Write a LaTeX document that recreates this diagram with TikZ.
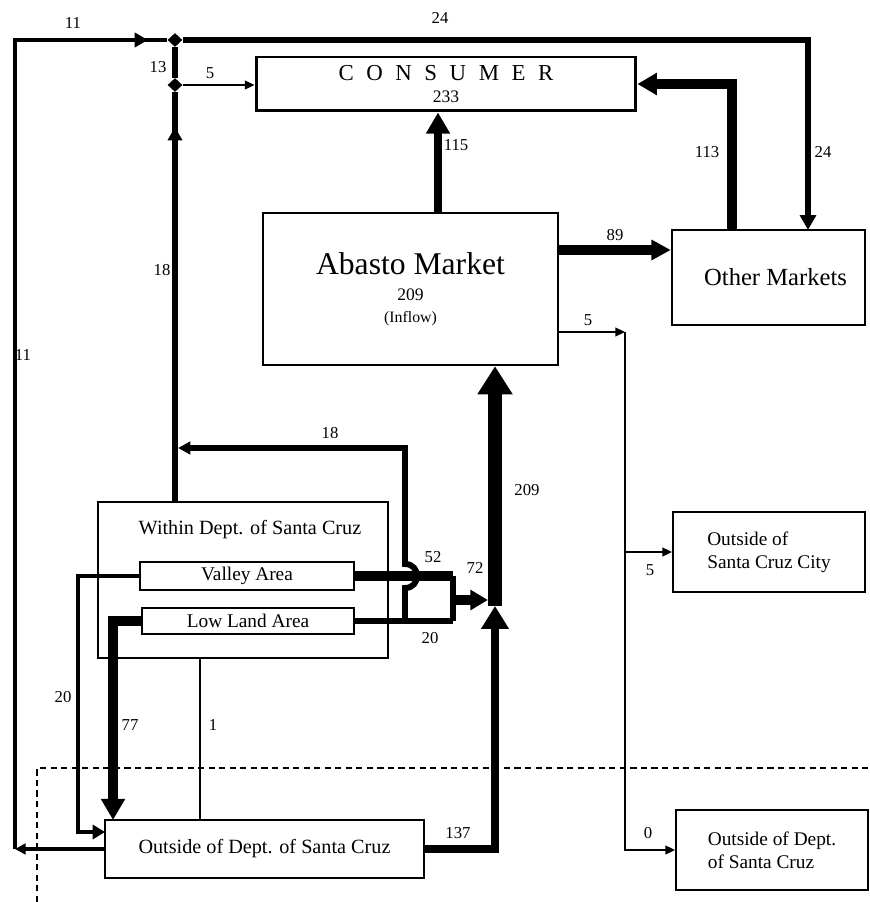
\documentclass[tikz,border=0pt]{standalone}
\usepackage{fontspec}
\setmainfont{Liberation Serif}
\usetikzlibrary{arrows.meta, shapes.geometric, decorations.markings}
\newcommand{\fsz}[2]{\fontsize{#1}{#2}\selectfont}
\tikzset{
  box/.style={draw, line width=1.4pt, inner sep=0pt, align=center},
  smallbox/.style={box, line width=1.1pt, font=\fsz{11}{13}},
  flowlab/.style={font=\fsz{9.5}{10}, inner sep=0pt},
  joint/.style={diamond, fill, inner sep=0pt, minimum width=0.3cm, minimum height=0.28cm},
  thinflow/.style={line width=0.9pt, -{Triangle[length=5.5pt, width=5pt]}},
  midtip/.style={postaction={decorate},
                 decoration={markings, mark=at position #1 with {\arrow{Triangle[length=7.5pt, width=8pt]}}}},
}

\begin{document}
\begin{tikzpicture}[x=0.02cm, y=-0.02cm]
  \useasboundingbox (0,0) rectangle (869,902);

  % boxes
  \node[box, line width=1.7pt, minimum width=7.6cm, minimum height=1.08cm] (consumer) at (446,84)
    {{\fsz{13}{15}\spaceskip=0.55em C O N S U M E R}\\[1pt]{\fsz{10}{12}233}};
  \node[box, minimum width=5.9cm, minimum height=3.04cm] (abasto) at (410.5,289)
    {{\fsz{18}{20}Abasto Market}\\[3pt]{\fsz{10}{12}209}\\[0pt]{\fsz{9}{11}(Inflow)}};
  \node[box, minimum width=3.86cm, minimum height=1.9cm, font=\fsz{14}{16}] (other) at (768.5,277.5) {\hspace*{8pt}Other Markets};
  \node[box, line width=0.8pt, minimum width=5.8cm, minimum height=3.12cm] (within) at (243,580) {};
  \node[font=\fsz{11.5}{13}] (withintxt) at (250,530) {Within Dept. of Santa Cruz};
  \node[smallbox, minimum width=4.28cm, minimum height=0.56cm] (valley) at (247,576) {Valley Area};
  \node[smallbox, minimum width=4.24cm, minimum height=0.52cm] (lowland) at (248,621) {Low Land Area};
  \node[box, minimum width=6.38cm, minimum height=1.16cm, font=\fsz{11.5}{13}] (outdept) at (264.5,849) {Outside of Dept. of Santa Cruz};
  \node[smallbox, align=left, minimum width=3.84cm, minimum height=1.6cm] (outcity) at (769,552) {Outside of\\Santa Cruz City};
  \node[smallbox, align=left, minimum width=3.84cm, minimum height=1.6cm] (outdeptR) at (772,850) {Outside of Dept.\\of Santa Cruz};

  % junctions
  \node[joint] (jtop) at (175,40) {};
  \node[joint] (jbot) at (175,85) {};

  \coordinate (lc) at (15,849);
  \coordinate (o24) at (808,230);
  \coordinate (o113) at (732,230);
  \coordinate (a115) at (438,213);
  \coordinate (a89) at (558,250);
  \coordinate (a5) at (558,332);
  \coordinate (j5) at (625,332);
  \coordinate (w18) at (175,502);
  \coordinate (l18) at (405,621);
  \coordinate (k18) at (405,448);
  \coordinate (c18) at (178,448);
  \coordinate (j72) at (453,600);
  \coordinate (t72) at (488,600);
  \coordinate (k20) at (78,832);
  \coordinate (o20) at (105,832);
  \coordinate (o77) at (113,820);
  \coordinate (w1) at (200,658);
  \coordinate (b137) at (495,606);

  % flows
  \draw[line width=2.5pt, -{Triangle[length=6pt, width=6pt]}] (outdept.west) -- (lc);
  \draw[line width=2.5pt, midtip=0.98] (lc) |- (jtop);
  \draw[line width=3pt, -{Triangle[length=8.5pt, width=9pt]}] (jtop) -| (o24);
  \draw[line width=5.7pt, -{Triangle[length=11pt, width=12pt]}] (o113) |- (consumer.east);
  \draw[line width=4.5pt, -{Triangle[length=12pt, width=13pt]}] (a115) -- (a115 |- consumer.south);
  \draw[line width=5.5pt, -{Triangle[length=11pt, width=11pt]}] (a89) -- (a89 -| other.west);
  \draw[thinflow] (a5) -- (j5);
  \draw[thinflow] (j5) |- (outdeptR.west);
  \draw[thinflow] (j5 |- outcity.west) -- (outcity.west);
  \draw[line width=3.4pt] (jbot) -- (jtop);
  \draw[thinflow] (jbot) -- (jbot -| consumer.west);
  \draw[line width=3.4pt, midtip=0.915] (w18) -- (jbot);
  \draw[line width=3.4pt, -{Triangle[length=7pt, width=7pt]}] (l18) -- (405,588)
    .. controls (421,588) and (421,564) .. (405,564) -- (k18) -- (c18);
  \draw[line width=5.5pt] (valley.east) -- (valley.east -| j72);
  \draw[line width=3.4pt] (valley.east -| j72) -- (lowland.east -| j72);
  \draw[line width=3pt] (lowland.east) -- (lowland.east -| j72);
  \draw[line width=6pt, -{Triangle[length=10pt, width=11pt]}] (j72) -- (t72);
  \draw[line width=8.5pt, -{Triangle[length=16pt, width=19pt]}] (b137) -- (b137 |- abasto.south);
  \draw[line width=5pt, -{Triangle[length=13pt, width=15pt]}] (outdept.east) -| (b137);
  \draw[line width=2.8pt, -{Triangle[length=7pt, width=8pt]}] (valley.west) -| (k20) -- (o20);
  \draw[line width=5.5pt, -{Triangle[length=12pt, width=13pt]}] (lowland.west) -| (o77);
  \draw[line width=0.8pt] (w1) -- (w1 |- outdept.north);

  % city boundary
  \draw[line width=0.9pt, dash pattern=on 3.5pt off 2.5pt] (37,902) -- (37,768) -- (869,768);

  % flow values
  \node[flowlab] (v11a) at (73,23) {11};
  \node[flowlab] (v11b) at (23,355) {11};
  \node[flowlab] (v13) at (158,67) {13};
  \node[flowlab] (v5a) at (210,73) {5};
  \node[flowlab] (v24a) at (440,18) {24};
  \node[flowlab] (v24b) at (823,152) {24};
  \node[flowlab] (v113) at (707,152) {113};
  \node[flowlab] (v115) at (456,145) {115};
  \node[flowlab] (v89) at (615,235) {89};
  \node[flowlab] (v5b) at (588,320) {5};
  \node[flowlab] (v18a) at (162,270) {18};
  \node[flowlab] (v18b) at (330,433) {18};
  \node[flowlab] (v209) at (527,490) {209};
  \node[flowlab] (v52) at (433,557) {52};
  \node[flowlab] (v72) at (475,568) {72};
  \node[flowlab] (v20a) at (430,638) {20};
  \node[flowlab] (v20b) at (63,697) {20};
  \node[flowlab] (v77) at (130,725) {77};
  \node[flowlab] (v1) at (213,725) {1};
  \node[flowlab] (v137) at (458,833) {137};
  \node[flowlab] (v5c) at (650,570) {5};
  \node[flowlab] (v0) at (648,833) {0};
\end{tikzpicture}
\end{document}
